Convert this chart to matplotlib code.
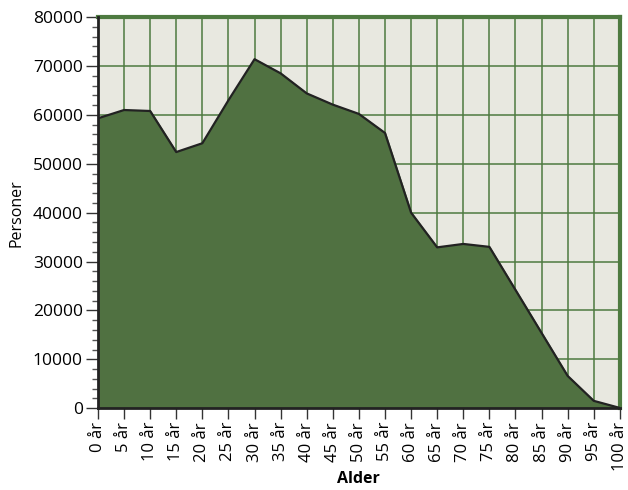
import matplotlib.pyplot as plt
import numpy as np
from matplotlib.ticker import MultipleLocator

plt.rcParams['font.family'] = ['Open Sans', 'DejaVu Sans']

# aldersgrupper og antal personer
alder = [0, 5, 10, 15, 20, 25, 30, 35, 40, 45, 50, 55, 60, 65, 70, 75, 80, 85, 90, 95, 100]
personer = [59300, 61000, 60800, 52400, 54200, 63000, 71400, 68500, 64400, 62100, 60200,
            56300, 40000, 32900, 33600, 33000, 24200, 15400, 6600, 1500, 50]
labels = [f'{a} år' for a in alder]

fig = plt.figure(figsize=(6.28, 4.9), dpi=100)
ax = fig.add_axes([0.156, 0.167, 0.831, 0.798])

ax.set_facecolor('#e8e8e0')
ax.fill_between(alder, personer, 0, color='#507141', zorder=2)
ax.plot(alder, personer, color='#222222', lw=1.6, zorder=3)

ax.set_xlim(0, 100)
ax.set_ylim(0, 80000)
ax.set_xticks(alder)
ax.set_xticklabels(labels, rotation=90, fontsize=12)
ax.yaxis.set_major_locator(MultipleLocator(10000))
ax.yaxis.set_minor_locator(MultipleLocator(2000))
ax.tick_params(axis='y', labelsize=12.5, length=9, width=1, color='#333333', pad=2)
ax.tick_params(axis='y', which='minor', length=4, width=1, color='#555555')
ax.tick_params(axis='x', length=8, width=1, color='#333333', pad=2)

ax.grid(True, which='major', color='#4e7a40', lw=1.1, zorder=1)

for s in ['top', 'right']:
    ax.spines[s].set_color('#4e7a40')
    ax.spines[s].set_linewidth(3)
for s in ['left', 'bottom']:
    ax.spines[s].set_color('#222222')
    ax.spines[s].set_linewidth(2)
    ax.spines[s].set_zorder(4)

ax.set_xlabel('Alder', fontsize=11.5, fontweight='bold', labelpad=0)
ax.set_ylabel('Personer', fontsize=11.5, labelpad=6)

plt.savefig('out.png', dpi=100)
